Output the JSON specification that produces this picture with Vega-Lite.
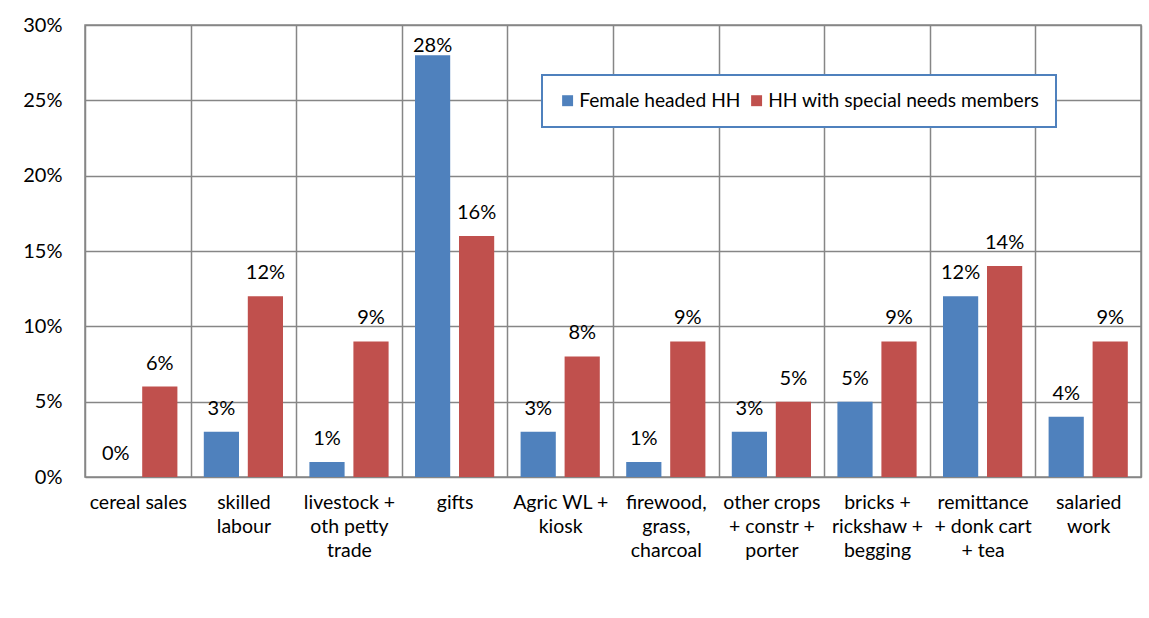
{
  "$schema": "https://vega.github.io/schema/vega-lite/v6.json",
  "width": 1056,
  "height": 452,
  "autosize": {"type": "none"},
  "padding": {"left": 85, "top": 25, "right": 8, "bottom": 141},
  "background": "white",
  "config": {
    "font": "Lato",
    "view": {"stroke": "#868686", "strokeWidth": 1.5},
    "text": {"font": "Lato"},
    "legend": {"strokeWidth": 2}
  },
  "data": {
    "values": [
      {"cat": "cereal sales", "series": "Female headed HH", "v": 0.00},
      {"cat": "cereal sales", "series": "HH with special needs members", "v": 0.06},
      {"cat": "skilled|labour", "series": "Female headed HH", "v": 0.03},
      {"cat": "skilled|labour", "series": "HH with special needs members", "v": 0.12},
      {"cat": "livestock +|oth petty|trade", "series": "Female headed HH", "v": 0.01},
      {"cat": "livestock +|oth petty|trade", "series": "HH with special needs members", "v": 0.09},
      {"cat": "gifts", "series": "Female headed HH", "v": 0.28},
      {"cat": "gifts", "series": "HH with special needs members", "v": 0.16},
      {"cat": "Agric WL +|kiosk", "series": "Female headed HH", "v": 0.03},
      {"cat": "Agric WL +|kiosk", "series": "HH with special needs members", "v": 0.08},
      {"cat": "firewood,|grass,|charcoal", "series": "Female headed HH", "v": 0.01},
      {"cat": "firewood,|grass,|charcoal", "series": "HH with special needs members", "v": 0.09},
      {"cat": "other crops|+ constr +|porter", "series": "Female headed HH", "v": 0.03},
      {"cat": "other crops|+ constr +|porter", "series": "HH with special needs members", "v": 0.05},
      {"cat": "bricks +|rickshaw +|begging", "series": "Female headed HH", "v": 0.05},
      {"cat": "bricks +|rickshaw +|begging", "series": "HH with special needs members", "v": 0.09},
      {"cat": "remittance|+ donk cart|+ tea", "series": "Female headed HH", "v": 0.12},
      {"cat": "remittance|+ donk cart|+ tea", "series": "HH with special needs members", "v": 0.14},
      {"cat": "salaried|work", "series": "Female headed HH", "v": 0.04},
      {"cat": "salaried|work", "series": "HH with special needs members", "v": 0.09}
    ]
  },
  "encoding": {
    "x": {
      "field": "cat",
      "type": "nominal",
      "sort": null,
      "title": null,
      "scale": {"paddingInner": 0, "paddingOuter": 0},
      "axis": {
        "labelExpr": "split(datum.label, '|')",
        "labelAngle": 0,
        "labelFontSize": 19.5,
        "labelLineHeight": 24,
        "labelColor": "black",
        "labelPadding": 16,
        "labelBaseline": "top",
        "labelLimit": 200,
        "ticks": false,
        "domain": false,
        "grid": true,
        "tickBand": "extent",
        "gridColor": "#868686",
        "gridWidth": 1.5
      }
    },
    "xOffset": {
      "field": "series",
      "type": "nominal",
      "sort": ["Female headed HH", "HH with special needs members"],
      "scale": {"paddingInner": 0.2, "paddingOuter": 0.3}
    },
    "y": {
      "field": "v",
      "type": "quantitative",
      "title": null,
      "scale": {"domain": [0, 0.3]},
      "axis": {
        "values": [0, 0.05, 0.1, 0.15, 0.2, 0.25, 0.3],
        "format": ".0%",
        "labelFontSize": 20,
        "labelColor": "black",
        "labelPadding": 23,
        "ticks": false,
        "domain": false,
        "grid": true,
        "gridColor": "#868686",
        "gridWidth": 1.5
      }
    }
  },
  "layer": [
    {
      "mark": {"type": "bar"},
      "encoding": {
        "color": {
          "field": "series",
          "type": "nominal",
          "title": null,
          "scale": {
            "domain": ["Female headed HH", "HH with special needs members"],
            "range": ["#4F81BD", "#C0504D"]
          },
          "legend": {
            "orient": "none",
            "legendX": 457,
            "legendY": 50,
            "direction": "horizontal",
            "symbolType": "square",
            "symbolSize": 120,
            "symbolStrokeWidth": 0,
            "labelFontSize": 19.2,
            "labelLimit": 400,
            "labelColor": "black",
            "labelOffset": 2,
            "columnPadding": 6,
            "padding": 16,
            "strokeColor": "#4F81BD",
            "fillColor": "white"
          }
        }
      }
    },
    {
      "mark": {
        "type": "text",
        "baseline": "alphabetic",
        "dy": {"expr": "datum.v >= 0.25 ? -3 : -17"},
        "fontSize": 20,
        "color": "black"
      },
      "encoding": {
        "text": {"field": "v", "type": "quantitative", "format": ".0%"}
      }
    }
  ]
}
